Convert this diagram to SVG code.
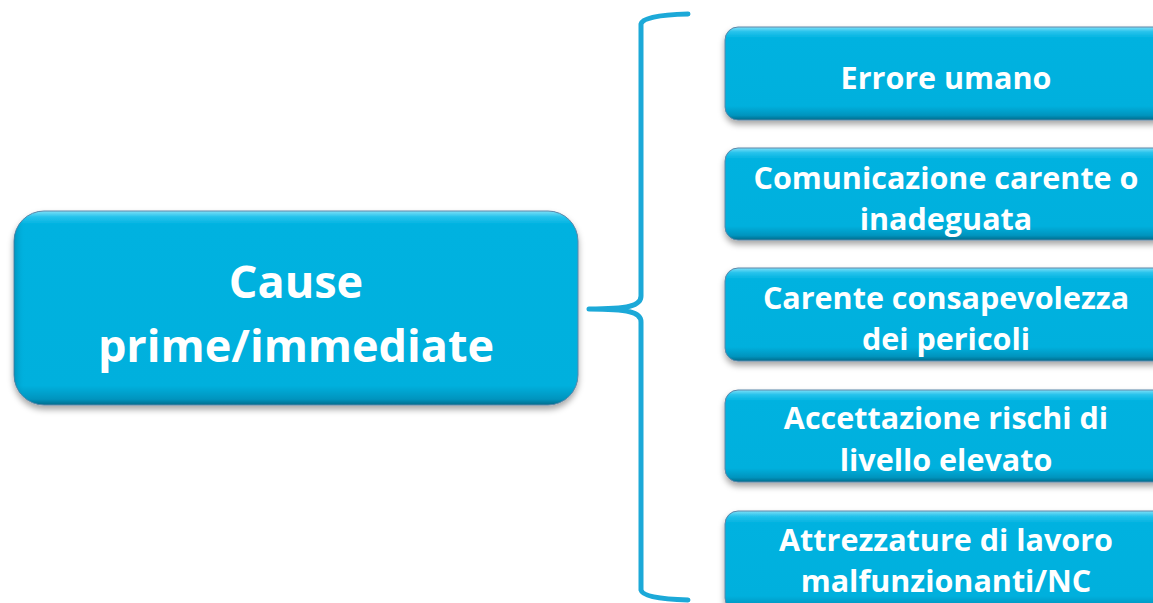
<svg xmlns="http://www.w3.org/2000/svg" width="1153" height="603" viewBox="0 0 1153 603">
<defs>
<linearGradient id="bevel" x1="0" y1="0" x2="0" y2="1">
<stop offset="0" stop-color="#7FE0F8"/>
<stop offset="0.05" stop-color="#27C3EC"/>
<stop offset="0.12" stop-color="#00B2E0"/>
<stop offset="0.85" stop-color="#00B0DD"/>
<stop offset="0.95" stop-color="#0094BE"/>
<stop offset="1" stop-color="#006C8C"/>
</linearGradient>
<linearGradient id="bevelBig" x1="0" y1="0" x2="0" y2="1">
<stop offset="0" stop-color="#7FE0F8"/>
<stop offset="0.03" stop-color="#27C3EC"/>
<stop offset="0.07" stop-color="#00B2E0"/>
<stop offset="0.9" stop-color="#00B0DD"/>
<stop offset="0.97" stop-color="#0094BE"/>
<stop offset="1" stop-color="#006C8C"/>
</linearGradient>
<linearGradient id="side" x1="0" y1="0" x2="1" y2="0">
<stop offset="0" stop-color="#005F80" stop-opacity="0.35"/>
<stop offset="0.02" stop-color="#00B0DD" stop-opacity="0"/>
<stop offset="1" stop-color="#00B0DD" stop-opacity="0"/>
</linearGradient>
<filter id="shadow" x="-10%" y="-10%" width="120%" height="130%">
<feDropShadow dx="0" dy="4" stdDeviation="3" flood-color="#000" flood-opacity="0.35"/>
</filter>
</defs>
<style>
.box{stroke:#5A86A8;stroke-width:1;filter:url(#shadow)}
.lbl{font-family:"Open Sans","Liberation Sans",sans-serif;font-weight:bold;fill:#fff;text-anchor:middle}
.small{font-size:30.5px}
.big{font-size:45px}
.brace{fill:none;stroke:#1CA9D8;stroke-width:5;stroke-linecap:round;stroke-linejoin:round}
</style>
<rect width="1153" height="603" fill="#fff"/>

<g id="connectors">
<path class="brace" d="M688,14 Q643,15 641,24 L641,296 C641,306 628,309 589,309 C628,309 641,312 641,322 L641,590 Q643,599 688,600"/>
</g>

<g id="main">
<rect class="box" x="14" y="211" width="564" height="194" rx="30" fill="url(#bevelBig)"/>
<rect x="14" y="211" width="564" height="194" rx="30" fill="url(#side)"/>
<text class="lbl big" x="296" y="298">Cause</text>
<text class="lbl big" x="296" y="362">prime/immediate</text>
</g>

<g id="n1">
<rect class="box" x="725" y="27" width="442" height="93" rx="13" fill="url(#bevel)"/>
<text class="lbl small" x="946" y="89">Errore umano</text>
</g>

<g id="n2">
<rect class="box" x="725" y="148" width="442" height="92" rx="13" fill="url(#bevel)"/>
<text class="lbl small" x="946" y="189">Comunicazione carente o</text>
<text class="lbl small" x="946" y="230">inadeguata</text>
</g>

<g id="n3">
<rect class="box" x="725" y="268" width="442" height="93" rx="13" fill="url(#bevel)"/>
<text class="lbl small" x="946" y="309">Carente consapevolezza</text>
<text class="lbl small" x="946" y="350">dei pericoli</text>
</g>

<g id="n4">
<rect class="box" x="725" y="390" width="442" height="92" rx="13" fill="url(#bevel)"/>
<text class="lbl small" x="946" y="429">Accettazione rischi di</text>
<text class="lbl small" x="946" y="471">livello elevato</text>
</g>

<g id="n5">
<rect class="box" x="725" y="511" width="442" height="100" rx="13" fill="url(#bevel)"/>
<text class="lbl small" x="946" y="551">Attrezzature di lavoro</text>
<text class="lbl small" x="946" y="592">malfunzionanti/NC</text>
</g>
</svg>
